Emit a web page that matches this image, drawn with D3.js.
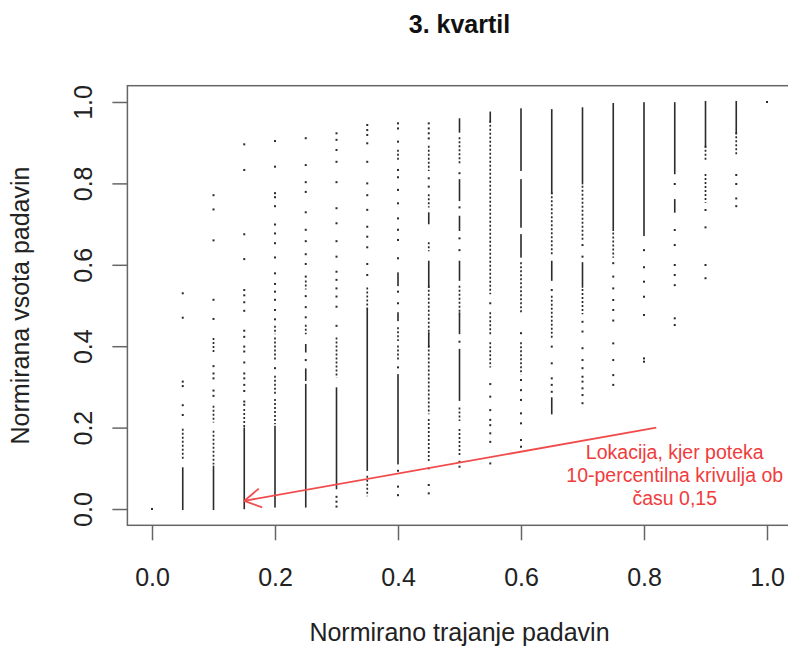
<!DOCTYPE html>
<html>
<head>
<meta charset="utf-8">
<script src="https://cdn.jsdelivr.net/npm/d3@7"></script>
<style>
  body { margin: 0; background: #fff; }
  text { font-family: "Liberation Sans", Arial, sans-serif; }
</style>
</head>
<body>
<div class="scatter_chart"></div>
<script>
// columns of the scatter (normirano trajanje)
var xCols = [0, 0.05, 0.1, 0.15, 0.2, 0.25, 0.3, 0.35, 0.4, 0.45, 0.5,
  0.55, 0.6, 0.65, 0.7, 0.75, 0.8, 0.85, 0.9, 0.95, 1.0];

// dense stretches of points, one list per column [lo, hi]
var solidRuns = [
  [],
  [[0, 0.1]],
  [[0, 0.104]],
  [[0.002, 0.198]],
  [[0.006, 0.202]],
  [[0.006, 0.305], [0.317, 0.343], [0.387, 0.403]],
  [[0.051, 0.2965]],
  [[0.096, 0.489]],
  [[0.112, 0.329], [0.464, 0.481], [0.55, 0.579]],
  [[0.399, 0.432], [0.546, 0.6075], [0.702, 0.7265]],
  [[0.268, 0.391], [0.432, 0.481], [0.563, 0.6075], [0.6855, 0.718], [0.759, 0.808], [0.927, 0.9575]],
  [[0.9517, 0.974]],
  [[0.62, 0.673], [0.6935, 0.808], [0.833, 0.982]],
  [[0.235, 0.272], [0.563, 0.6075], [0.776, 0.98]],
  [[0.546, 0.604], [0.8, 0.9845]],
  [[0.6855, 0.995]],
  [[0.673, 0.997]],
  [[0.7305, 0.759], [0.825, 0.997]],
  [[0.89, 1.0]],
  [[0.923, 1.0]],
  []
];

// looser stretches of points
var dottedRuns = [
  [],
  [[0.125, 0.195]],
  [[0.112, 0.19], [0.215, 0.251], [0.387, 0.418]],
  [[0.202, 0.243]],
  [[0.211, 0.268], [0.284, 0.325], [0.366, 0.419], [0.432, 0.448]],
  [[0.432, 0.45], [0.542, 0.559]],
  [[0.325, 0.419]],
  [[0.034, 0.0795], [0.489, 0.542]],
  [[0.366, 0.399], [0.415, 0.444], [0.86, 0.88]],
  [[0.12, 0.219], [0.235, 0.399], [0.432, 0.546], [0.636, 0.653], [0.743, 0.771], [0.833, 0.89]],
  [[0.1325, 0.194], [0.219, 0.247], [0.481, 0.546], [0.849, 0.911]],
  [[0.35, 0.407], [0.432, 0.481], [0.53, 0.9517]],
  [[0.333, 0.407], [0.481, 0.604]],
  [[0.423, 0.5215], [0.628, 0.776]],
  [[0.481, 0.538], [0.661, 0.792]],
  [[0.62, 0.677]],
  [],
  [],
  [[0.755, 0.8206], [0.8575, 0.89]],
  [[0.874, 0.923]],
  []
];

// single points (normirana vsota)
var singlePoints = [
  [0],
  [0.53, 0.47, 0.313, 0.302, 0.255, 0.231],
  [0.771, 0.736, 0.66, 0.514, 0.467, 0.351, 0.333, 0.321, 0.291, 0.278],
  [0.896, 0.833, 0.675, 0.614, 0.538, 0.525, 0.508, 0.487, 0.438, 0.423, 0.399, 0.387, 0.36, 0.333, 0.321, 0.305, 0.29, 0.264, 0.256],
  [0.904, 0.841, 0.776, 0.766, 0.744, 0.699, 0.677, 0.653, 0.618, 0.579, 0.553, 0.534, 0.514, 0.489, 0.466, 0.346],
  [0.911, 0.845, 0.803, 0.779, 0.729, 0.686, 0.658, 0.626, 0.602, 0.571, 0.523, 0.496, 0.471, 0.366],
  [0.923, 0.907, 0.882, 0.853, 0.803, 0.739, 0.702, 0.658, 0.62, 0.583, 0.563, 0.542, 0.522, 0.497, 0.45, 0.03, 0.018, 0.006],
  [0.9435, 0.931, 0.919, 0.8985, 0.853, 0.8, 0.771, 0.735, 0.6935, 0.669, 0.643, 0.602, 0.575],
  [0.9475, 0.935, 0.9025, 0.833, 0.815, 0.784, 0.751, 0.714, 0.686, 0.661, 0.616, 0.534, 0.5055, 0.348, 0.094, 0.055, 0.034],
  [0.9475, 0.935, 0.923, 0.9105, 0.8125, 0.792, 0.1, 0.059, 0.0385],
  [0.825, 0.741, 0.665, 0.636, 0.411, 0.116, 0.104],
  [0.5055, 0.307, 0.276, 0.243, 0.219, 0.206, 0.186, 0.165, 0.112],
  [0.432, 0.317, 0.292, 0.268, 0.235, 0.2105, 0.1695, 0.153],
  [0.538, 0.399, 0.358, 0.321, 0.305, 0.288],
  [0.6485, 0.62, 0.46, 0.436, 0.395, 0.366, 0.346, 0.325, 0.313, 0.2965, 0.28, 0.26],
  [0.604, 0.571, 0.542, 0.5135, 0.489, 0.463, 0.407, 0.366, 0.329, 0.305],
  [0.636, 0.594, 0.5585, 0.5215, 0.4767, 0.37, 0.362],
  [0.7985, 0.6855, 0.6485, 0.5995, 0.575, 0.55, 0.4685, 0.452],
  [0.7346, 0.692, 0.5995, 0.567],
  [0.8206, 0.7985, 0.763, 0.744],
  [1.0]
];

var tickValues = [0, 0.2, 0.4, 0.6, 0.8, 1.0];
var tickLabels = ["0.0", "0.2", "0.4", "0.6", "0.8", "1.0"];

// annotation: arrow from -> to, and text lines
var arrowFrom = [0.82, 0.2];
var arrowTo = [0.15, 0.02];
var noteX = 0.85;
var noteLines = ["Lokacija, kjer poteka", "10-percentilna krivulja ob", "času 0,15"];
var noteY = [0.122, 0.066, 0.011];

var width = 788,
  height = 646;

var svg = d3
  .select(".scatter_chart")
  .append("svg")
  .attr("width", width)
  .attr("height", height)
  .style("display", "block");

svg.append("rect").attr("width", width).attr("height", height).attr("fill", "#fff");

// R style 4% extension of the axes
var x = d3.scaleLinear().domain([-0.04, 1.04]).range([127.4, 791.6]);
var y = d3.scaleLinear().domain([-0.04, 1.04]).range([525.3, 85.7]);

var cols = xCols.map(function (d, i) {
  return { x: d, solid: solidRuns[i], dotted: dottedRuns[i], pts: singlePoints[i] };
});

var ink = "#2b2b2b";
var pointGroup = svg.append("g").attr("id", "points");

var col = pointGroup
  .selectAll(".col")
  .data(cols)
  .enter()
  .append("g")
  .attr("class", "col")
  .attr("transform", function (d) {
    return "translate(" + x(d.x) + ",0)";
  });

// dense runs
col
  .selectAll(".solid")
  .data(function (d) {
    return d.solid;
  })
  .enter()
  .append("rect")
  .attr("class", "solid")
  .attr("x", -0.8)
  .attr("y", function (d) {
    return y(d[1]) - 1;
  })
  .attr("width", 1.6)
  .attr("height", function (d) {
    return y(d[0]) - y(d[1]) + 2;
  })
  .attr("fill", ink);

// looser runs
col
  .selectAll(".dotted")
  .data(function (d) {
    return d.dotted;
  })
  .enter()
  .append("line")
  .attr("class", "dotted")
  .attr("x1", 0)
  .attr("x2", 0)
  .attr("y1", function (d) {
    return y(d[1]) - 1;
  })
  .attr("y2", function (d) {
    return y(d[0]) + 1;
  })
  .style("stroke", ink)
  .style("stroke-width", 1.7)
  .style("stroke-dasharray", "2,2");

// single dots
col
  .selectAll(".pt")
  .data(function (d) {
    return d.pts;
  })
  .enter()
  .append("rect")
  .attr("class", "pt")
  .attr("x", -1)
  .attr("y", function (d) {
    return y(d) - 1;
  })
  .attr("width", 2)
  .attr("height", 2)
  .attr("fill", ink);

// box
svg
  .append("rect")
  .attr("x", x(-0.04))
  .attr("y", y(1.04))
  .attr("width", x(1.04) - x(-0.04))
  .attr("height", y(-0.04) - y(1.04))
  .attr("fill", "none")
  .style("stroke", "#666")
  .style("stroke-width", 1.5);

// x-axis
var xAxis = svg
  .append("g")
  .attr("class", "x axis")
  .attr("transform", "translate(0," + y(-0.04) + ")")
  .call(
    d3.axisBottom(x)
      .tickValues(tickValues)
      .tickFormat(function (d, i) {
        return tickLabels[i];
      })
      .tickSize(15)
      .tickSizeOuter(0)
      .tickPadding(28)
  );
xAxis.select(".domain").remove();
xAxis.selectAll(".tick line").style("stroke", "#666").style("stroke-width", 1.5);
xAxis
  .selectAll(".tick text")
  .attr("font-size", "25px")
  .attr("font-family", "Liberation Sans, Arial, sans-serif")
  .attr("fill", "#222");

// y-axis, labels turned like R does
var yAxis = svg
  .append("g")
  .attr("class", "y axis")
  .attr("transform", "translate(" + x(-0.04) + ",0)")
  .call(
    d3.axisLeft(y)
      .tickValues(tickValues)
      .tickFormat(function (d, i) {
        return tickLabels[i];
      })
      .tickSize(15)
      .tickSizeOuter(0)
  );
yAxis.select(".domain").remove();
yAxis.selectAll(".tick line").style("stroke", "#666").style("stroke-width", 1.5);
yAxis
  .selectAll(".tick text")
  .attr("x", null)
  .attr("dy", null)
  .attr("text-anchor", "middle")
  .attr("transform", "translate(-35,0) rotate(-90)")
  .attr("font-size", "25px")
  .attr("font-family", "Liberation Sans, Arial, sans-serif")
  .attr("fill", "#222");

// titles
svg
  .append("text")
  .attr("x", (x(-0.04) + x(1.04)) / 2)
  .attr("y", 33)
  .attr("text-anchor", "middle")
  .attr("font-size", "25px")
  .attr("font-weight", "bold")
  .attr("fill", "#111")
  .text("3. kvartil");

svg
  .append("text")
  .attr("x", (x(-0.04) + x(1.04)) / 2)
  .attr("y", 641)
  .attr("text-anchor", "middle")
  .attr("font-size", "25px")
  .attr("fill", "#222")
  .text("Normirano trajanje padavin");

svg
  .append("text")
  .attr("transform", "translate(29," + (y(-0.04) + y(1.04)) / 2 + ") rotate(-90)")
  .attr("text-anchor", "middle")
  .attr("font-size", "25px")
  .attr("fill", "#222")
  .text("Normirana vsota padavin");

// annotation arrow
var red = "#f24b4b";
var ax0 = x(arrowFrom[0]),
  ay0 = y(arrowFrom[1]),
  ax1 = x(arrowTo[0]),
  ay1 = y(arrowTo[1]);
svg
  .append("line")
  .attr("x1", ax0)
  .attr("y1", ay0)
  .attr("x2", ax1)
  .attr("y2", ay1)
  .style("stroke", red)
  .style("stroke-width", 1.8);

var ang = Math.atan2(ay0 - ay1, ax0 - ax1);
var headLen = 19;
[-Math.PI / 6, Math.PI / 6].forEach(function (a) {
  svg
    .append("line")
    .attr("x1", ax1)
    .attr("y1", ay1)
    .attr("x2", ax1 + headLen * Math.cos(ang + a))
    .attr("y2", ay1 + headLen * Math.sin(ang + a))
    .style("stroke", red)
    .style("stroke-width", 1.8);
});

svg
  .selectAll(".note")
  .data(noteLines)
  .enter()
  .append("text")
  .attr("class", "note")
  .attr("x", x(noteX))
  .attr("y", function (d, i) {
    return y(noteY[i]);
  })
  .attr("text-anchor", "middle")
  .attr("font-size", "19.5px")
  .attr("fill", "#f03c3c")
  .text(function (d) {
    return d;
  });
</script>
</body>
</html>
